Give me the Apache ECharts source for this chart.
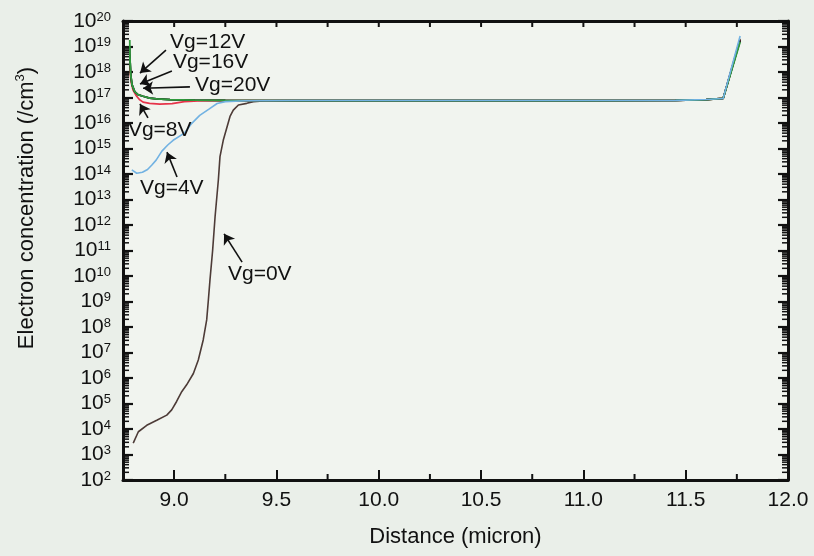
<!DOCTYPE html>
<html>
<head>
<meta charset="utf-8">
<script src="https://cdn.jsdelivr.net/npm/echarts@6/dist/echarts.min.js"></script>
<style>
  html, body { margin: 0; padding: 0; background: #eaefe9; }
  #chart { width: 814px; height: 556px; }
</style>
</head>
<body>
<div id="chart"></div>
<script>
// Electron concentration profiles along the channel for several gate voltages

// Distance (micron) and electron concentration (/cm^3), near-surface part of each profile
const vg0X = [8.800, 8.825, 8.866, 8.915, 8.964, 8.988, 9.012, 9.037, 9.061, 9.094, 9.118, 9.142, 9.159, 9.167, 9.175, 9.188, 9.200, 9.216, 9.224, 9.240, 9.273, 9.289, 9.314, 9.355, 9.387, 9.45];
const vg0N = [2.8e3, 7.8e3, 1.4e4, 2.2e4, 3.5e4, 5.6e4, 1.2e5, 2.9e5, 5.4e5, 1.5e6, 5.1e6, 3.1e7, 1.9e8, 1.1e9, 6.9e9, 1.0e11, 2.1e12, 5.8e13, 4.8e14, 2.1e15, 1.8e16, 3.2e16, 5.1e16, 5.9e16, 6.9e16, 7.5e16];

const vg4X = [8.793, 8.817, 8.845, 8.870, 8.890, 8.912, 8.940, 8.970, 8.995, 9.050, 9.085, 9.125, 9.170, 9.210, 9.250, 9.35];
const vg4N = [1.45e14, 1.07e14, 1.17e14, 1.5e14, 2.2e14, 3.5e14, 7.9e14, 1.4e15, 2.1e15, 4.0e15, 9.5e15, 2.0e16, 3.5e16, 5.8e16, 6.9e16, 7.5e16];

const vg8X = [8.783, 8.786, 8.791, 8.799, 8.815, 8.830, 8.848, 8.880, 8.930, 8.990, 9.050, 9.120, 9.25];
const vg8N = [1.8e18, 7.6e17, 3.6e17, 1.95e17, 1.17e17, 8.3e16, 6.6e16, 5.9e16, 5.5e16, 5.75e16, 6.9e16, 7.4e16, 7.6e16];

const vg12X = [8.783, 8.7845, 8.788, 8.794, 8.807, 8.823, 8.848, 8.880, 8.915, 8.980, 9.100, 9.25];
const vg12N = [5.0e18, 3.0e18, 7.6e17, 3.2e17, 1.7e17, 1.3e17, 1.12e17, 9.5e16, 8.9e16, 8.3e16, 7.9e16, 7.7e16];

const vg16X = [8.783, 8.7842, 8.788, 8.794, 8.807, 8.823, 8.848, 8.880, 8.915, 8.980, 9.100, 9.25];
const vg16N = [1.0e19, 3.3e18, 7.6e17, 3.2e17, 1.7e17, 1.3e17, 1.12e17, 9.5e16, 8.9e16, 8.3e16, 7.9e16, 7.7e16];

const vg20X = [8.783, 8.784, 8.788, 8.794, 8.807, 8.823, 8.848, 8.880, 8.915, 8.980, 9.100, 9.25];
const vg20N = [1.8e19, 3.5e18, 7.6e17, 3.2e17, 1.7e17, 1.3e17, 1.12e17, 9.5e16, 8.9e16, 8.3e16, 7.9e16, 7.7e16];

// Bulk plateau and drain-side rise shared by all profiles
const bulkX = [9.6, 10.0, 10.5, 11.0, 11.45, 11.6, 11.683];
const bulkN = [7.6e16, 7.6e16, 7.6e16, 7.6e16, 7.7e16, 8.3e16, 9.2e16];
const edgeX = 11.766;
const edgeN = { vg0: 2.0e19, vg4: 2.6e19, vg8: 1.8e19, vg12: 1.8e19, vg16: 1.7e19, vg20: 1.5e19 };

// Axis ticks and labels
const xMajor = [9.0, 9.5, 10.0, 10.5, 11.0, 11.5, 12.0];
const xMinor = [9.25, 9.75, 10.25, 10.75, 11.25, 11.75];
const xTop = [9.0, 9.25, 9.5, 9.75, 10.0, 10.25, 10.5, 10.75, 11.0, 11.25, 11.5, 11.75];
const yExponents = [2, 3, 4, 5, 6, 7, 8, 9, 10, 11, 12, 13, 14, 15, 16, 17, 18, 19, 20];

// Annotations: label text, its anchor (left edge, middle) and the arrow from/to points
const noteText = ['Vg=12V', 'Vg=16V', 'Vg=20V', 'Vg=8V', 'Vg=4V', 'Vg=0V'];
const noteX = [8.980, 8.994, 9.102, 8.774, 8.833, 9.263];
const noteN = [1.5e19, 2.45e18, 3.1e17, 5.4e15, 2.8e13, 1.2e10];
const arrowFrom = [[8.960, 7.2e18], [8.989, 1.1e18], [9.077, 2.6e17], [8.872, 1.6e16], [9.014, 7.6e13], [9.332, 3.5e10]];
const arrowTo = [[8.833, 9.1e17], [8.833, 3.4e17], [8.848, 2.3e17], [8.833, 5.6e16], [8.965, 7.2e14], [9.244, 4.5e11]];

const FONT = '"Liberation Sans", Arial, Helvetica, sans-serif';
const INK = '#111';

// Decade ticks (the end ones nudged inside the extent so they are kept) and log-spaced minors
const yMajor = yExponents.map((e, i) => {
  const v = Math.pow(10, e);
  if (i === 0) return v * (1 + 1e-7);
  if (i === yExponents.length - 1) return v * (1 - 1e-7);
  return v;
});
const yMinor = [];
yExponents.slice(0, -1).forEach(e => {
  for (let k = 2; k <= 9; k++) yMinor.push(k * Math.pow(10, e));
});

function profile(xs, ns, peak) {
  const pts = xs.map((x, i) => [x, ns[i]]);
  bulkX.forEach((x, i) => pts.push([x, bulkN[i]]));
  pts.push([edgeX, peak]);
  return pts;
}

const chart = echarts.init(document.getElementById('chart'), null, { renderer: 'canvas' });

const axisLineStyle = { show: true, onZero: false, lineStyle: { color: INK, width: 3 } };

function lineSeries(name, data, color, width) {
  return {
    name, type: 'line', data, xAxisIndex: 0, yAxisIndex: 0,
    showSymbol: false, symbol: 'none', smooth: false,
    lineStyle: { color, width }, itemStyle: { color },
    animation: false, silent: true
  };
}

const series = [
  lineSeries('Vg=0V', profile(vg0X, vg0N, edgeN.vg0), '#4d3b37', 1.6),
  lineSeries('Vg=8V', profile(vg8X, vg8N, edgeN.vg8), '#e6334a', 1.7),
  lineSeries('Vg=12V', profile(vg12X, vg12N, edgeN.vg12), '#2b2b22', 1.7),
  lineSeries('Vg=16V', profile(vg16X, vg16N, edgeN.vg16), '#1c1c1c', 1.7),
  lineSeries('Vg=20V', profile(vg20X, vg20N, edgeN.vg20), '#2f9a3c', 1.8),
  lineSeries('Vg=4V', profile(vg4X, vg4N, edgeN.vg4), '#72b2e2', 1.6)
];

// Arrows pointing from each label to its curve
series.push({
  type: 'line', data: [], xAxisIndex: 0, yAxisIndex: 0, silent: true, animation: false,
  markLine: {
    silent: true, animation: false,
    symbol: ['none', 'arrow'], symbolSize: 10,
    label: { show: false },
    lineStyle: { color: INK, width: 1.6, type: 'solid' },
    emphasis: { disabled: true },
    data: arrowFrom.map((f, i) => [{ coord: f }, { coord: arrowTo[i] }])
  }
});

chart.setOption({
  backgroundColor: '#eaefe9',
  animation: false,
  grid: {
    left: 123, right: 26, top: 21, bottom: 76,
    show: true, backgroundColor: '#f1f4ef', borderWidth: 0
  },
  xAxis: [
    {
      type: 'value', min: 8.75, max: 12.0, position: 'bottom',
      splitLine: { show: false },
      axisLine: axisLineStyle,
      axisTick: { show: true, inside: true, length: 10, customValues: xMajor, lineStyle: { color: INK, width: 2 } },
      axisLabel: {
        show: true, customValues: xMajor, margin: 10,
        formatter: v => v.toFixed(1),
        color: INK, fontSize: 21, fontFamily: FONT
      },
      name: 'Distance (micron)', nameLocation: 'middle', nameGap: 46,
      nameTextStyle: { color: INK, fontSize: 22, fontFamily: FONT }
    },
    {
      type: 'value', min: 8.75, max: 12.0, position: 'top',
      splitLine: { show: false }, axisLabel: { show: false }, axisTick: { show: false },
      axisLine: axisLineStyle
    }
  ],
  yAxis: [
    {
      type: 'log', logBase: 10, min: 1e2, max: 1e20, position: 'left',
      splitLine: { show: false },
      axisLine: axisLineStyle,
      axisTick: { show: true, inside: true, length: 10, customValues: yMajor, lineStyle: { color: INK, width: 2.2 } },
      axisLabel: {
        show: true, customValues: yMajor, margin: 12,
        showMinLabel: true, showMaxLabel: true, hideOverlap: false,
        formatter: v => '{b|10}{s|' + Math.round(Math.log10(v)) + '}',
        rich: {
          b: { fontSize: 21, fontFamily: FONT, color: INK, lineHeight: 21, verticalAlign: 'bottom', padding: [4, 0, 0, 0] },
          s: { fontSize: 13, fontFamily: FONT, color: INK, lineHeight: 13, verticalAlign: 'top' }
        }
      }
    },
    {
      type: 'log', logBase: 10, min: 1e2, max: 1e20, position: 'right',
      splitLine: { show: false }, axisLabel: { show: false },
      axisLine: axisLineStyle,
      axisTick: { show: true, inside: true, length: 10, customValues: yMajor, lineStyle: { color: INK, width: 2.2 } }
    }
  ],
  series
});

// Minor and top ticks, positioned through the series' own coordinate system
const toPx = (x, y) => chart.convertToPixel({ seriesIndex: 0 }, [x, y]);
const px = v => toPx(v, 1e10)[0];
const py = v => toPx(9.0, v)[1];
const gx0 = px(8.75), gx1 = px(12.0), gy0 = py(1e20), gy1 = py(1e2);
const tick = (x1, y1, x2, y2, w) => ({
  type: 'line', silent: true, z: 50,
  shape: { x1, y1, x2, y2 },
  style: { stroke: INK, lineWidth: w }
});
const graphics = [];
yMinor.forEach(v => {
  const y = py(v);
  graphics.push(tick(gx0, y, gx0 + 6, y, 1.5));
  graphics.push(tick(gx1, y, gx1 - 6, y, 1.5));
});
xMinor.forEach(v => {
  const x = px(v);
  graphics.push(tick(x, gy1, x, gy1 - 6, 2));
});
xTop.forEach(v => {
  const x = px(v);
  graphics.push(tick(x, gy0, x, gy0 + 6, 2));
});

// Curve labels and the y-axis title
noteText.forEach((t, i) => {
  const p = toPx(noteX[i], noteN[i]);
  graphics.push({
    type: 'text', x: p[0], y: p[1], silent: true, z: 100,
    style: { text: t, fill: INK, font: '21px ' + FONT, align: 'left', verticalAlign: 'middle' }
  });
});
graphics.push({
  type: 'text', x: 27, y: 208, rotation: Math.PI / 2, silent: true, z: 100,
  style: {
    text: 'Electron concentration (/cm{s|3})',
    fill: INK, font: '22px ' + FONT, align: 'center', verticalAlign: 'middle',
    rich: {
      s: { fontSize: 13, fontFamily: FONT, fill: INK, verticalAlign: 'top', lineHeight: 26 }
    }
  }
});
chart.setOption({ graphic: graphics });
</script>
</body>
</html>
